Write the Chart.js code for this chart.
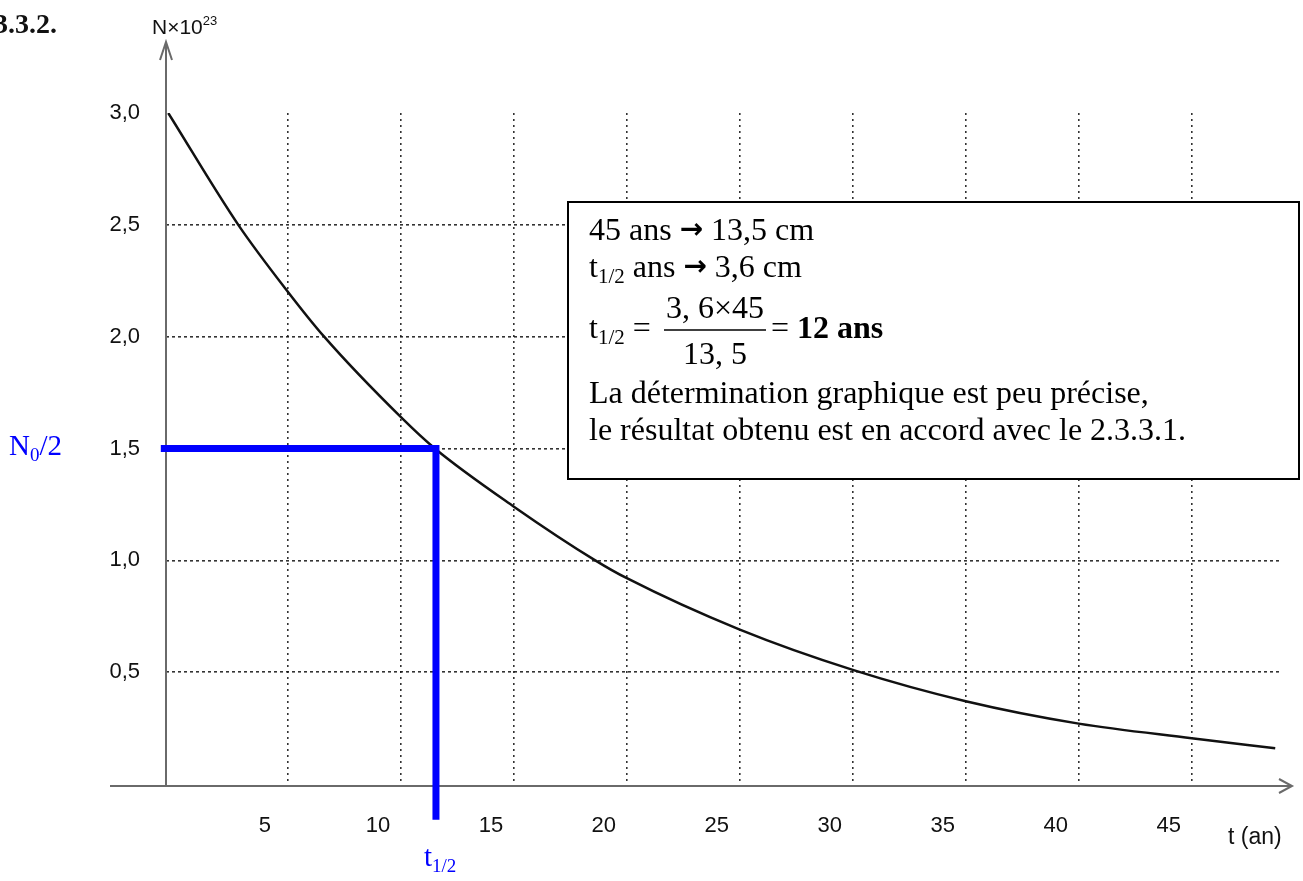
<!DOCTYPE html>
<html>
<head>
<meta charset="utf-8">
<script src="https://cdn.jsdelivr.net/npm/chart.js@4"></script>
<style>
  html, body { margin: 0; padding: 0; background: #fff; }
  #wrap { width: 1303px; height: 881px; }
</style>
</head>
<body>
<div id="wrap"><canvas id="graphe" width="1303" height="881"></canvas></div>
<script>
// courbe de décroissance N(t) (N en 10^23, t en années)
const temps = [-0.3, 2.8, 5, 6.6, 10, 11.5, 15, 18.6, 20, 25, 30, 35, 40, 45, 48.7];
const noyaux = [3.0, 2.5, 2.2, 2.0, 1.64, 1.5, 1.24, 1.0, 0.92, 0.69, 0.51, 0.37, 0.27, 0.205, 0.16];

// graduations
const ticksT = [5, 10, 15, 20, 25, 30, 35, 40, 45];
const ticksN = [0.5, 1.0, 1.5, 2.0, 2.5, 3.0];

// tracé bleu de la demi-vie
const demiVieT = [-0.63, 11.55, 11.55];
const demiVieN = [1.5, 1.5, -0.16];

const SERIF = "'Liberation Serif', 'Times New Roman', serif";
const SANS = "'Liberation Sans', Arial, sans-serif";

// écrit une suite de morceaux de texte à la suite
function runs(ctx, x, y, parts) {
    parts.forEach(function(p) {
        ctx.font = p[1];
        ctx.fillText(p[0], x, y + (p[2] || 0));
        x += ctx.measureText(p[0]).width;
    });
    return x;
}

const decor = {
    id: 'decor',
    beforeDatasetsDraw(chart) {
        const ctx = chart.ctx;
        const x0 = chart.scales.x.left;
        const y0 = chart.scales.y.getPixelForValue(0) + 2;
        ctx.save();
        ctx.lineWidth = 2;
        ctx.strokeStyle = '#6a6a6a';
        // axe des t
        ctx.beginPath();
        ctx.moveTo(110, y0); ctx.lineTo(1292, y0);
        ctx.moveTo(1279, y0 - 7); ctx.lineTo(1292, y0); ctx.lineTo(1279, y0 + 7);
        ctx.stroke();
        // axe des N
        ctx.beginPath();
        ctx.moveTo(x0, y0); ctx.lineTo(x0, 42);
        ctx.moveTo(x0 - 6, 60); ctx.lineTo(x0, 42); ctx.lineTo(x0 + 6, 60);
        ctx.stroke();
        ctx.restore();
    },
    afterDraw(chart) {
        const ctx = chart.ctx;
        ctx.save();
        ctx.textBaseline = 'alphabetic';
        ctx.fillStyle = '#111';

        ctx.font = 'bold 28px ' + SERIF;
        ctx.fillText('3.3.2.', -6, 33);

        runs(ctx, 152, 34, [['N×10', '21px ' + SANS], ['23', '13px ' + SANS, -9]]);

        ctx.font = '23px ' + SANS;
        ctx.fillText('t (an)', 1228, 844);

        // repères bleus
        ctx.fillStyle = '#0000ff';
        runs(ctx, 9, 455, [['N', '29px ' + SERIF], ['0', '19px ' + SERIF, 6], ['/2', '29px ' + SERIF]]);
        runs(ctx, 424, 866, [['t', '29px ' + SERIF], ['1/2', '19px ' + SERIF, 6]]);

        // encadré
        const bx = 568, by = 202, bw = 1299 - 568, bh = 479 - 202;
        ctx.fillStyle = '#fff';
        ctx.fillRect(bx, by, bw, bh);
        ctx.lineWidth = 2;
        ctx.strokeStyle = '#000';
        ctx.strokeRect(bx, by, bw, bh);

        ctx.fillStyle = '#000';
        const f = '32px ' + SERIF, fs = '21px ' + SERIF, fa = 'bold 28px DejaVu Sans';
        runs(ctx, 589, 240, [['45 ans ', f], ['→', fa, -2], [' 13,5 cm', f]]);
        runs(ctx, 589, 277, [['t', f], ['1/2', fs, 6], [' ans ', f], ['→', fa, -2], [' 3,6 cm', f]]);
        runs(ctx, 589, 338, [['t', f], ['1/2', fs, 6], [' = ', f]]);
        ctx.font = f;
        ctx.textAlign = 'center';
        ctx.fillText('3, 6×45', 715, 318);
        ctx.fillText('13, 5', 715, 364);
        ctx.textAlign = 'left';
        ctx.lineWidth = 1.5;
        ctx.beginPath();
        ctx.moveTo(664, 330); ctx.lineTo(766, 330);
        ctx.stroke();
        runs(ctx, 771, 338, [['= ', f], ['12 ans', 'bold ' + f]]);
        ctx.font = f;
        ctx.fillText('La détermination graphique est peu précise,', 589, 403);
        ctx.fillText('le résultat obtenu est en accord avec le 2.3.3.1.', 589, 440);
        ctx.restore();
    }
};

const grille = {
    color: 'rgba(15,15,15,0.85)',
    lineWidth: 1.6,
    drawTicks: false
};

new Chart(document.getElementById('graphe'), {
    type: 'scatter',
    data: {
        datasets: [{
            label: 'N',
            data: temps.map(function(t, i) { return { x: t, y: noyaux[i] }; }),
            showLine: true,
            borderColor: '#111',
            borderWidth: 2.5,
            pointRadius: 0,
            cubicInterpolationMode: 'monotone',
            order: 2
        }, {
            label: 't1/2',
            data: demiVieT.map(function(t, i) { return { x: t, y: demiVieN[i] }; }),
            showLine: true,
            borderColor: '#0000ff',
            borderWidth: 7,
            borderJoinStyle: 'miter',
            pointRadius: 0,
            clip: false,
            order: 1
        }]
    },
    options: {
        responsive: false,
        animation: false,
        events: [],
        layout: { padding: { left: 0, top: 113, right: 21, bottom: 0 } },
        plugins: { legend: { display: false }, tooltip: { enabled: false } },
        scales: {
            x: {
                type: 'linear',
                min: -0.4,
                max: 49,
                afterBuildTicks: function(s) { s.ticks = ticksT.map(function(v) { return { value: v }; }); },
                afterFit: function(s) { s.height = 97; },
                border: { display: false, dash: [2, 4] },
                grid: grille,
                ticks: {
                    autoSkip: false,
                    maxRotation: 0,
                    labelOffset: -23,
                    padding: 29,
                    color: '#111',
                    font: { family: SANS, size: 22 }
                }
            },
            y: {
                min: 0,
                max: 3,
                afterBuildTicks: function(s) { s.ticks = ticksN.map(function(v) { return { value: v }; }); },
                afterFit: function(s) { s.width = 166; },
                border: { display: false, dash: [3, 3] },
                grid: Object.assign({}, grille, {
                    color: function(c) { return c.tick && c.tick.value >= 3 ? 'rgba(0,0,0,0)' : 'rgba(15,15,15,0.85)'; }
                }),
                ticks: {
                    padding: 26,
                    color: '#111',
                    font: { family: SANS, size: 22 },
                    callback: function(v) { return Number(v).toFixed(1).replace('.', ','); }
                }
            }
        }
    },
    plugins: [decor]
});
</script>
</body>
</html>
